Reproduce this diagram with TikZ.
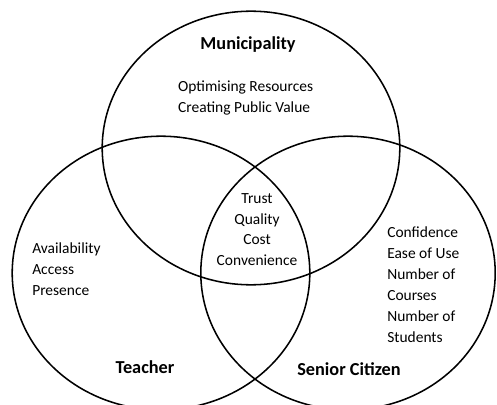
\documentclass[tikz,border=0pt]{standalone}
\usepackage{fontspec}
\setmainfont{Carlito}
\usetikzlibrary{positioning}

\begin{document}
\begin{tikzpicture}[
    set/.style={line width=1.1pt},
    setname/.style={font=\fontsize{13pt}{15pt}\bfseries\selectfont,inner sep=0pt},
    items/.style={font=\fontsize{11pt}{14.9pt}\selectfont,inner sep=0pt}
  ]

      \useasboundingbox (0,0) rectangle (12.425,10.1);

      % three overlapping sets, slightly wider than tall
      \draw[set] (6.275,6.4) ellipse (3.72 and 3.42);
      \draw[set] (4.025,3.275) ellipse (3.72 and 3.42);
      \draw[set] (8.7,3.275) ellipse (3.68 and 3.42);

      % names of the sets
      \node[setname] (muni) at (6.2,8.975) {Municipality};
      \node[setname] (teacher) at (3.625,0.925) {Teacher};
      \node[setname] (senior) at (8.725,0.875) {Senior Citizen};

      % what each party cares about
      \node[items,align=left] (munigoals) at (6.14,7.66) {Optimising Resources\\Creating Public Value};
      \node[items,align=left,anchor=west] (teachergoals) at (0.8,3.36) {Availability\\Access\\Presence};
      \node[items,align=left,anchor=west] (seniorgoals) at (9.675,2.99) {Confidence\\Ease of Use\\Number of\\Courses\\Number of\\Students};

      % shared by all three, in the middle
      \node[items,align=center] (shared) at (6.425,4.36) {Trust\\Quality\\Cost\\Convenience};

\end{tikzpicture}
\end{document}
